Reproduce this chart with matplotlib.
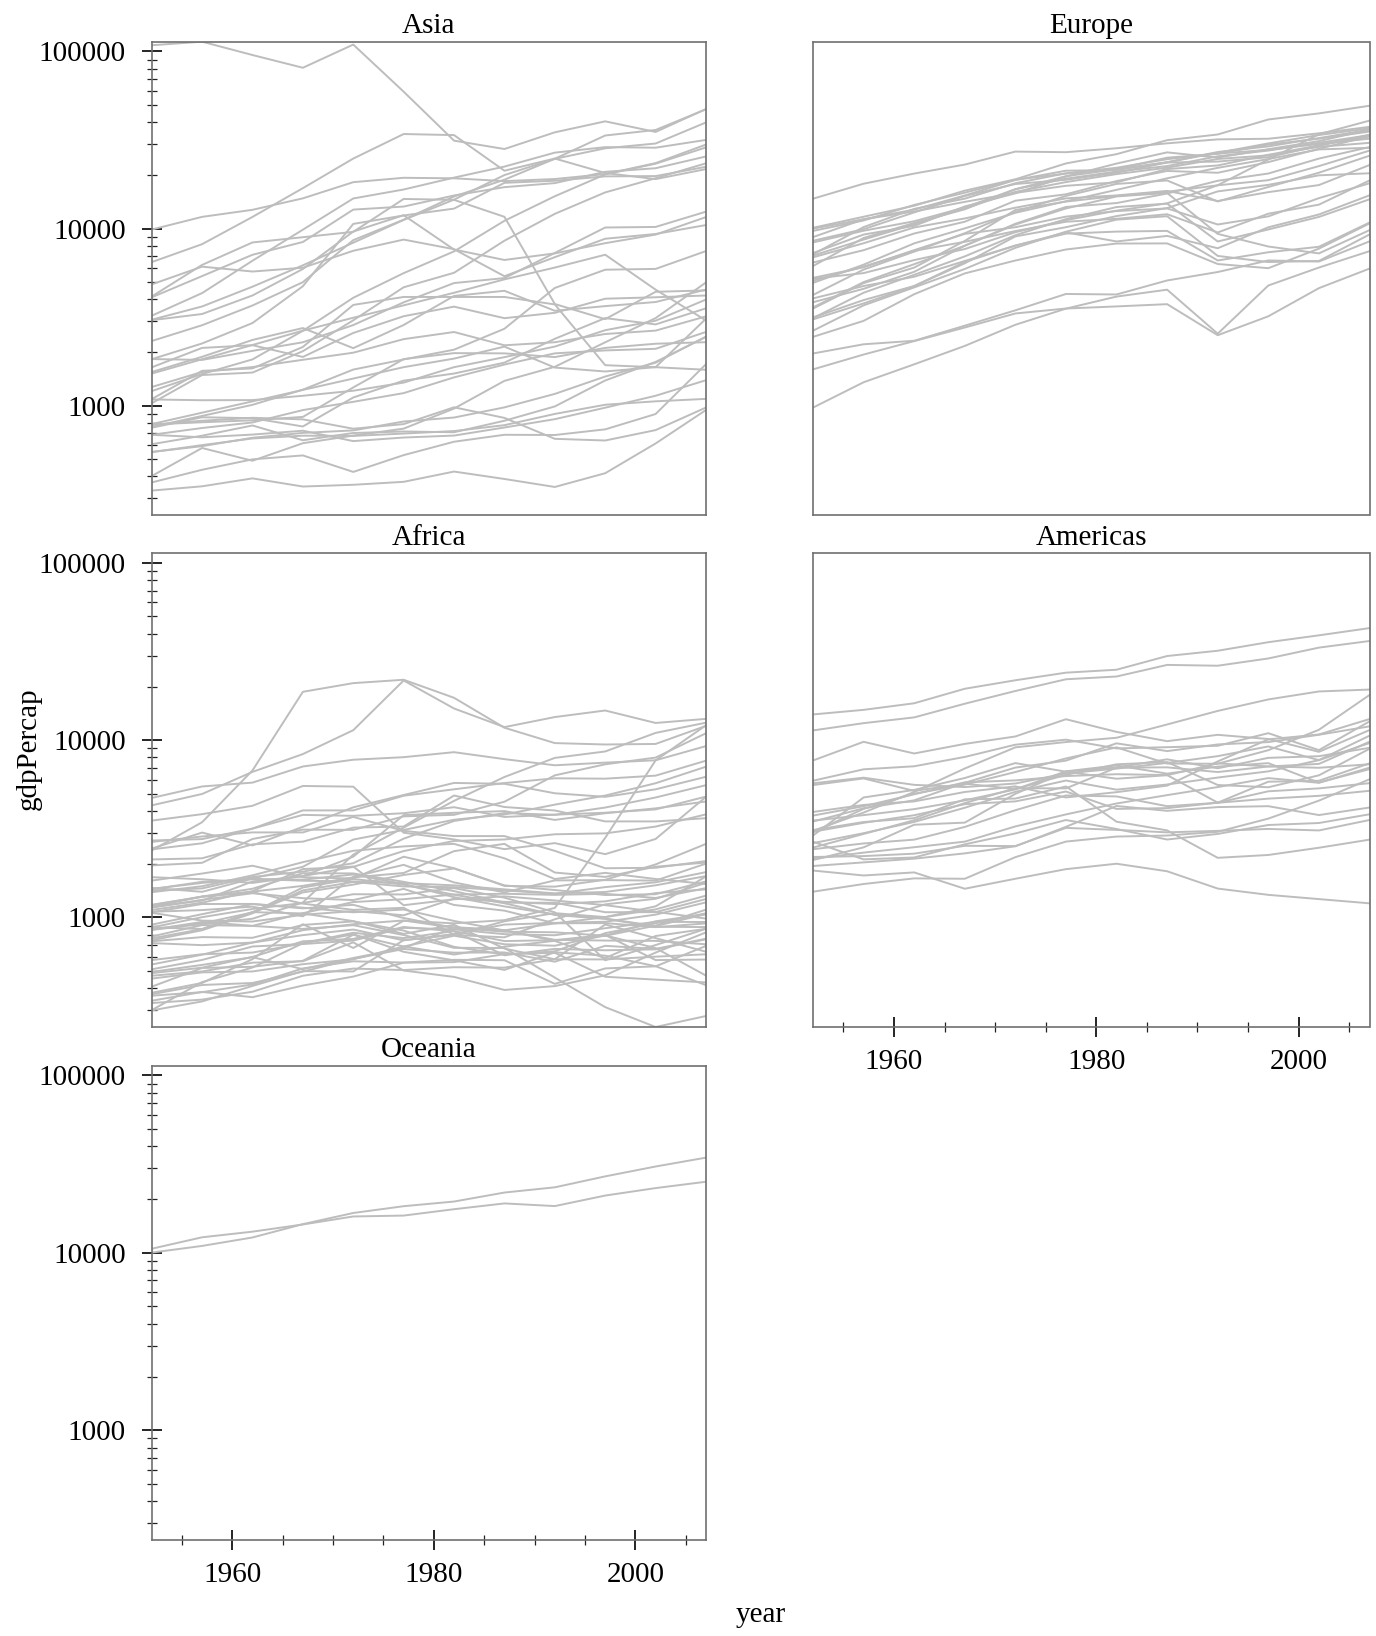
import matplotlib
matplotlib.use("Agg")
import matplotlib.pyplot as plt
import matplotlib.ticker as mticker
import numpy as np

years = [1952, 1957, 1962, 1967, 1972, 1977, 1982, 1987, 1992, 1997, 2002, 2007]

asia_countries = ["Afghanistan", "Bahrain", "Bangladesh", "Cambodia", "China", "Hong Kong", "India",
                  "Indonesia", "Iran", "Iraq", "Israel", "Japan", "Jordan", "Korea Dem Rep", "Korea Rep",
                  "Kuwait", "Lebanon", "Malaysia", "Mongolia", "Myanmar", "Nepal", "Oman", "Pakistan",
                  "Philippines", "Saudi Arabia", "Singapore", "Sri Lanka", "Syria", "Taiwan", "Thailand",
                  "Vietnam", "West Bank and Gaza", "Yemen"]
asia_gdp = [
    [779, 821, 853, 836, 740, 786, 978, 852, 649, 635, 727, 975],
    [9867, 11636, 12753, 14805, 18269, 19340, 19211, 18524, 19036, 20292, 23404, 29796],
    [684, 662, 686, 721, 630, 660, 677, 752, 838, 973, 1136, 1391],
    [368, 434, 497, 523, 422, 525, 625, 684, 682, 734, 896, 1713],
    [400, 576, 488, 613, 677, 741, 962, 1379, 1656, 2277, 3119, 4959],
    [3054, 3629, 4693, 6198, 8316, 11186, 14561, 20038, 24757, 28378, 30209, 39725],
    [547, 590, 658, 701, 724, 813, 856, 977, 1164, 1459, 1747, 2452],
    [750, 859, 849, 762, 1111, 1383, 1517, 1748, 2383, 3119, 2874, 3541],
    [3035, 3290, 4187, 5907, 9613, 11889, 7608, 6643, 7235, 8264, 9241, 11606],
    [4130, 6229, 8342, 8931, 9576, 14688, 14517, 11644, 3746, 3076, 4391, 4471],
    [4087, 5386, 7106, 8393, 12787, 13306, 15367, 17122, 18051, 20897, 21906, 25523],
    [3217, 4318, 6577, 9848, 14779, 16610, 19384, 22376, 26825, 28817, 28605, 31656],
    [1547, 1886, 2348, 2741, 2110, 2852, 4162, 4449, 3431, 3645, 3845, 4519],
    [1088, 1571, 1622, 2144, 3702, 4106, 4106, 4106, 3726, 1691, 1647, 1593],
    [1031, 1488, 1536, 2029, 3031, 4657, 5623, 8533, 12104, 15994, 19234, 23348],
    [108382, 113523, 95458, 80895, 109348, 59265, 31354, 28118, 34933, 40301, 35110, 47307],
    [4835, 6090, 5716, 6006, 7486, 8659, 7641, 5377, 6890, 8755, 9314, 10461],
    [1831, 1811, 2037, 2278, 2849, 3828, 4920, 5249, 7278, 10133, 10207, 12452],
    [786, 912, 1056, 1226, 1421, 1648, 1842, 2153, 1639, 1558, 1648, 3096],
    [331, 350, 388, 349, 357, 371, 424, 385, 347, 415, 611, 944],
    [546, 598, 652, 676, 674, 695, 718, 775, 897, 1011, 1057, 1091],
    [1828, 2243, 2925, 4721, 10618, 11848, 12955, 18115, 18617, 19702, 19775, 22316],
    [684, 747, 803, 943, 1050, 1176, 1443, 1705, 1972, 2049, 2092, 2606],
    [1273, 1548, 1650, 1814, 1989, 2373, 2603, 2190, 2279, 2537, 2651, 3190],
    [6460, 8157, 11627, 16903, 24837, 34168, 33693, 21199, 24841, 20586, 19014, 21655],
    [2315, 2843, 3675, 4977, 8597, 11210, 15169, 18862, 24769, 33519, 36023, 47143],
    [1083, 1072, 1074, 1136, 1213, 1348, 1648, 1877, 2154, 2665, 3015, 3970],
    [1644, 2117, 2193, 1882, 2571, 3196, 3621, 3116, 3341, 4014, 4090, 4185],
    [1207, 1508, 1823, 2644, 4063, 5597, 7427, 11055, 15216, 20207, 23235, 28718],
    [758, 874, 1010, 1230, 1597, 1822, 2069, 2716, 4616, 5853, 5914, 7458],
    [605, 676, 772, 637, 700, 714, 707, 821, 989, 1386, 1764, 2442],
    [1516, 1827, 2199, 2650, 3134, 3682, 4337, 5162, 6018, 7111, 4516, 3026],
    [782, 805, 826, 863, 1266, 1830, 1978, 1972, 1879, 2117, 2235, 2281],
]

europe_countries = ["Albania", "Austria", "Belgium", "Bosnia", "Bulgaria", "Croatia", "Czech Rep",
                    "Denmark", "Finland", "France", "Germany", "Greece", "Hungary", "Iceland", "Ireland",
                    "Italy", "Montenegro", "Netherlands", "Norway", "Poland", "Portugal", "Romania",
                    "Serbia", "Slovak Rep", "Slovenia", "Spain", "Sweden", "Switzerland", "Turkey", "UK"]
europe_gdp = [
    [1601, 1942, 2313, 2760, 3313, 3533, 3631, 3739, 2497, 3193, 4604, 5937],
    [6137, 8843, 10751, 12835, 16662, 19749, 21598, 23688, 27042, 29096, 32418, 36126],
    [8343, 9715, 10991, 13149, 16672, 19118, 20979, 22526, 25576, 27561, 30486, 33693],
    [974, 1354, 1710, 2172, 2860, 3528, 4127, 4514, 2547, 4766, 6019, 7446],
    [2444, 3009, 4255, 5578, 6597, 7612, 8225, 8240, 6303, 5970, 7697, 10681],
    [3119, 4338, 5478, 6960, 9164, 11306, 13222, 13823, 8448, 9876, 11628, 14619],
    [6876, 8256, 10137, 11399, 13108, 14800, 15377, 16310, 14297, 16049, 17596, 22833],
    [9692, 11100, 13583, 15937, 18866, 20423, 21688, 25116, 26407, 29804, 32166, 35278],
    [6425, 7545, 9372, 10922, 14359, 15605, 18533, 21141, 20647, 23724, 28205, 33207],
    [7030, 8663, 10560, 12999, 16107, 18293, 20294, 22066, 24704, 25890, 28926, 30470],
    [7144, 10188, 12902, 14746, 18016, 20513, 22032, 24639, 26505, 27789, 30036, 32170],
    [3531, 4916, 6017, 8513, 12725, 14196, 15268, 16121, 17541, 18748, 22514, 27538],
    [5264, 6040, 7550, 9326, 10168, 11674, 12546, 12986, 10536, 11712, 14843, 18009],
    [7268, 9244, 10350, 13320, 15798, 19655, 23270, 26923, 25144, 28061, 31163, 36181],
    [5211, 5599, 6632, 7656, 9531, 11151, 12618, 13873, 17559, 24522, 34077, 40676],
    [4931, 6249, 8244, 10022, 12269, 14256, 16537, 19208, 22014, 24675, 27968, 28570],
    [2648, 3682, 4649, 5908, 7779, 9596, 11223, 11733, 7003, 6466, 6557, 9254],
    [8942, 11277, 12791, 15363, 18795, 21210, 21400, 23651, 26791, 30246, 33725, 36798],
    [10095, 11654, 13450, 16362, 18965, 23311, 26298, 31541, 33966, 41283, 44684, 49357],
    [4029, 4734, 5339, 6557, 8006, 9508, 8452, 9082, 7739, 10160, 12002, 15390],
    [3068, 3775, 4728, 6362, 9022, 10172, 11754, 13039, 16207, 17641, 19971, 20510],
    [3145, 3943, 4735, 6471, 8011, 9356, 9606, 9696, 6598, 7346, 7885, 10808],
    [3581, 4981, 6289, 7992, 10523, 12980, 15181, 15871, 9325, 7914, 7236, 9787],
    [5074, 6093, 7481, 8412, 9674, 10922, 11348, 12037, 9498, 12126, 13638, 18678],
    [4215, 5862, 7403, 9405, 12384, 15277, 17867, 18678, 14214, 17161, 20660, 25768],
    [3834, 4565, 5694, 7994, 10639, 13236, 13926, 15765, 18603, 20445, 24835, 28821],
    [8528, 9912, 12329, 15258, 17832, 18856, 20667, 23587, 23880, 25267, 29342, 33860],
    [14734, 17909, 20431, 22966, 27195, 26982, 28398, 30282, 31872, 32136, 34481, 37506],
    [1969, 2219, 2323, 2826, 3451, 4269, 4241, 5089, 5679, 6601, 6508, 8458],
    [9980, 11283, 12477, 14143, 15895, 17429, 18232, 21665, 22705, 26075, 29479, 33203],
]

africa_countries = ["Algeria", "Angola", "Benin", "Botswana", "Burkina Faso", "Burundi", "Cameroon",
                    "Central African Rep", "Chad", "Comoros", "Congo Dem Rep", "Congo Rep", "Cote d'Ivoire",
                    "Djibouti", "Egypt", "Equatorial Guinea", "Eritrea", "Ethiopia", "Gabon", "Gambia",
                    "Ghana", "Guinea", "Guinea-Bissau", "Kenya", "Lesotho", "Liberia", "Libya",
                    "Madagascar", "Malawi", "Mali", "Mauritania", "Mauritius", "Morocco", "Mozambique",
                    "Namibia", "Niger", "Nigeria", "Reunion", "Rwanda", "Sao Tome", "Senegal",
                    "Sierra Leone", "Somalia", "South Africa", "Sudan", "Swaziland", "Tanzania", "Togo",
                    "Tunisia", "Uganda", "Zambia", "Zimbabwe"]
africa_gdp = [
    [2449, 3014, 2551, 3247, 4183, 4910, 5745, 5681, 5023, 4797, 5288, 6223],
    [3521, 3828, 4269, 5523, 5473, 3009, 2757, 2430, 2628, 2277, 2773, 4797],
    [1063, 960, 949, 1036, 1086, 1029, 1278, 1226, 1191, 1233, 1373, 1441],
    [851, 918, 984, 1215, 2264, 3215, 4551, 6206, 7954, 8647, 11004, 12570],
    [543, 617, 722, 795, 855, 743, 807, 912, 932, 946, 1038, 1217],
    [339, 380, 355, 413, 464, 556, 560, 621, 632, 463, 446, 430],
    [1173, 1313, 1400, 1508, 1684, 1783, 2368, 2603, 1793, 1694, 1934, 2042],
    [1071, 1191, 1193, 1136, 1070, 1109, 956, 844, 748, 741, 738, 706],
    [1179, 1308, 1390, 1197, 1104, 1134, 798, 952, 1058, 1005, 1156, 1704],
    [1103, 1211, 1407, 1876, 1938, 1173, 1267, 1316, 1247, 1174, 1076, 986],
    [781, 906, 896, 862, 905, 796, 674, 673, 458, 312, 241, 278],
    [2126, 2158, 2586, 2679, 3214, 3260, 4879, 4201, 4016, 3485, 3484, 3633],
    [1389, 1501, 1729, 2052, 2379, 2518, 2603, 2157, 1648, 1786, 1649, 1545],
    [2670, 2865, 3021, 3020, 3694, 3082, 2880, 2880, 2377, 1896, 1908, 2082],
    [1419, 1459, 1693, 1815, 2024, 2785, 3504, 3885, 3795, 4173, 4755, 5581],
    [376, 427, 582, 916, 673, 958, 927, 966, 1132, 2815, 7703, 12154],
    [329, 344, 381, 469, 515, 505, 524, 521, 582, 913, 765, 641],
    [362, 379, 419, 516, 566, 557, 577, 574, 422, 516, 530, 691],
    [4293, 4976, 6631, 8358, 11401, 21746, 15113, 11864, 13522, 14723, 12522, 13206],
    [485, 521, 599, 734, 757, 884, 836, 612, 665, 653, 661, 753],
    [911, 1044, 1190, 1126, 1179, 993, 876, 847, 925, 1005, 1111, 1328],
    [510, 576, 686, 708, 741, 874, 857, 805, 794, 870, 945, 943],
    [300, 432, 522, 716, 820, 765, 838, 736, 745, 797, 575, 579],
    [853, 944, 897, 1057, 1222, 1268, 1348, 1361, 1342, 1360, 1288, 1463],
    [299, 336, 411, 498, 496, 745, 797, 773, 977, 1186, 1275, 1569],
    [575, 620, 634, 714, 803, 640, 573, 506, 636, 609, 531, 415],
    [2388, 3448, 6757, 18773, 21011, 21951, 17364, 11770, 9640, 9467, 9534, 12057],
    [1443, 1589, 1643, 1634, 1749, 1544, 1302, 1155, 1040, 987, 895, 1045],
    [369, 416, 427, 495, 584, 664, 633, 635, 563, 692, 665, 759],
    [452, 490, 496, 545, 581, 686, 618, 684, 739, 790, 952, 1042],
    [744, 847, 1056, 1422, 1586, 1497, 1482, 1421, 1361, 1484, 1579, 1803],
    [1968, 2035, 2773, 3132, 3121, 3721, 3795, 4500, 6340, 7319, 7986, 10957],
    [1688, 1643, 1567, 1712, 1930, 2371, 2703, 2756, 2948, 2983, 3258, 3820],
    [469, 496, 556, 566, 724, 502, 462, 390, 410, 472, 634, 824],
    [2424, 2622, 3173, 3793, 3746, 3876, 4191, 3693, 3804, 3900, 4072, 4811],
    [762, 860, 1072, 1054, 954, 808, 909, 668, 581, 580, 601, 620],
    [1077, 1101, 1151, 1015, 1698, 1982, 1577, 1385, 1619, 1625, 1615, 2014],
    [2719, 2769, 3174, 4021, 4021, 4864, 5289, 5735, 6102, 6072, 6316, 7670],
    [493, 540, 597, 511, 591, 670, 882, 848, 737, 590, 786, 863],
    [880, 861, 1072, 1385, 1533, 1738, 1890, 1517, 1429, 1339, 1353, 1598],
    [1450, 1567, 1654, 1612, 1597, 1562, 1518, 1441, 1367, 1393, 1519, 1712],
    [879, 1004, 1117, 1207, 1353, 1349, 1465, 1294, 1069, 574, 699, 863],
    [1136, 1258, 1370, 1285, 1254, 1450, 1177, 1093, 927, 930, 882, 926],
    [4725, 5487, 5769, 7114, 7765, 8028, 8568, 7826, 7225, 7479, 7711, 9270],
    [1615, 1770, 1959, 1687, 1659, 2202, 1896, 1508, 1493, 1632, 1993, 2602],
    [1148, 1244, 1597, 1712, 2203, 3781, 3896, 3985, 3553, 3876, 4128, 4513],
    [717, 698, 722, 848, 916, 962, 875, 831, 825, 789, 899, 1107],
    [859, 926, 1068, 1477, 1650, 1533, 1344, 1203, 1034, 982, 886, 883],
    [1468, 1396, 1660, 1932, 2753, 3120, 3561, 3811, 4333, 4876, 5723, 7093],
    [734, 775, 768, 908, 950, 844, 683, 618, 644, 816, 928, 1056],
    [1147, 1312, 1453, 1778, 1773, 1589, 1409, 1213, 1211, 1071, 1072, 1271],
    [407, 519, 527, 570, 799, 686, 789, 706, 693, 792, 672, 470],
]

americas_countries = ["Argentina", "Bolivia", "Brazil", "Canada", "Chile", "Colombia", "Costa Rica",
                      "Cuba", "Dominican Rep", "Ecuador", "El Salvador", "Guatemala", "Haiti", "Honduras",
                      "Jamaica", "Mexico", "Nicaragua", "Panama", "Paraguay", "Peru", "Puerto Rico",
                      "Trinidad and Tobago", "United States", "Uruguay", "Venezuela"]
americas_gdp = [
    [5911, 6857, 7133, 8053, 9443, 10079, 8998, 9140, 9308, 10967, 8798, 12779],
    [2677, 2128, 2181, 2587, 2980, 3548, 3157, 2754, 2962, 3326, 3413, 3822],
    [2109, 2487, 3337, 3430, 4986, 6660, 7031, 7807, 6950, 7958, 8131, 9066],
    [11367, 12490, 13462, 16077, 18971, 22091, 22899, 26627, 26343, 28955, 33329, 36319],
    [3940, 4316, 4519, 5107, 5494, 4757, 5096, 5547, 7596, 10118, 10779, 13172],
    [2144, 2323, 2492, 2679, 3265, 3816, 4398, 4903, 5445, 6117, 5755, 7007],
    [2627, 2990, 3461, 4161, 5118, 5927, 5263, 5629, 6160, 6677, 7723, 9645],
    [5587, 6092, 5181, 5690, 5305, 6381, 7317, 7533, 5593, 5432, 6341, 8948],
    [1398, 1545, 1662, 1654, 2190, 2681, 2862, 2900, 3045, 3614, 4564, 6025],
    [3522, 3781, 4086, 4580, 5281, 6680, 7213, 6481, 7103, 7429, 5773, 6873],
    [3048, 3421, 3776, 4359, 4520, 5138, 4099, 4141, 4444, 5154, 5352, 5728],
    [2428, 2617, 2750, 3243, 4031, 4880, 4821, 4246, 4440, 4684, 4858, 5186],
    [1840, 1726, 1796, 1453, 1654, 1874, 2011, 1823, 1456, 1342, 1270, 1202],
    [2195, 2220, 2292, 2538, 2529, 3203, 3121, 3023, 3082, 3160, 3099, 3548],
    [2899, 4757, 5246, 6125, 7434, 6650, 6068, 6351, 7405, 7122, 6995, 7321],
    [3478, 4132, 4582, 5755, 7011, 7675, 9611, 8688, 9472, 9767, 10742, 11978],
    [3112, 3457, 3635, 4644, 4689, 5487, 3471, 3101, 2171, 2253, 2475, 2749],
    [2480, 2961, 3537, 4421, 5365, 5352, 7009, 7034, 6618, 7113, 7357, 9809],
    [1952, 2046, 2148, 2300, 2523, 3248, 4258, 3998, 4197, 4247, 3784, 4173],
    [3759, 4245, 4957, 5788, 5938, 6281, 6435, 6361, 4446, 5838, 5909, 7409],
    [3082, 3908, 5108, 6930, 9123, 9770, 10331, 12281, 14642, 16999, 18855, 19329],
    [3023, 4101, 4997, 5621, 6619, 7899, 9119, 7388, 7371, 8792, 11461, 18009],
    [13990, 14847, 16173, 19530, 21806, 24072, 25010, 29884, 32004, 35767, 39097, 42952],
    [5717, 6150, 5603, 5444, 5703, 6504, 6920, 7452, 8137, 9231, 7727, 10611],
    [7690, 9803, 8423, 9541, 10506, 13144, 11152, 9884, 10734, 10165, 8605, 11416],
]

oceania_countries = ["Australia", "New Zealand"]
oceania_gdp = [
    [10040, 10950, 12217, 14526, 16789, 18334, 19477, 21889, 23425, 26998, 30688, 34435],
    [10557, 12247, 13176, 14464, 16046, 16234, 17632, 19007, 18363, 21050, 23190, 25185],
]

continents = ["Asia", "Europe", "Africa", "Americas", "Oceania"]
continent_data = [asia_gdp, europe_gdp, africa_gdp, americas_gdp, oceania_gdp]

plt.rcParams["font.family"] = ["Liberation Serif", "DejaVu Serif"]
FS = 21
W, H = 1376, 1636
fig = plt.figure(figsize=(W / 100, H / 100), dpi=100)

# axes rectangles in pixel coords (left, top, right, bottom)
rects = {
    "Asia": (151.7, 41.7, 706, 515),
    "Europe": (813, 41.7, 1369.5, 515),
    "Africa": (151.7, 553.3, 706, 1027),
    "Americas": (813, 553.3, 1369.5, 1027),
    "Oceania": (151.7, 1065.7, 706, 1540),
}

all_vals = [v for d in continent_data for row in d for v in row]
ymin, ymax = min(all_vals), max(all_vals)

spine_color = "#707070"
line_color = "#bdbdbd"

for name, data in zip(continents, continent_data):
    l, t, r, b = rects[name]
    ax = fig.add_axes([l / W, 1 - b / H, (r - l) / W, (b - t) / H])
    for row in data:
        ax.plot(years, row, color=line_color, lw=1.4)
    ax.set_yscale("log")
    ax.set_xlim(1952, 2007)
    ax.set_ylim(ymin, ymax)
    for s in ax.spines.values():
        s.set_color(spine_color)
        s.set_linewidth(1.2)
    ax.set_title(name, fontsize=FS, pad=6)
    left_col = name in ("Asia", "Africa", "Oceania")
    bottom = name in ("Americas", "Oceania")

    ax.xaxis.set_major_locator(mticker.MultipleLocator(20))
    ax.xaxis.set_minor_locator(mticker.MultipleLocator(5))
    ax.yaxis.set_major_locator(mticker.LogLocator(base=10, numticks=10))
    ax.yaxis.set_minor_locator(mticker.LogLocator(base=10, subs=np.arange(2, 10), numticks=20))
    ax.yaxis.set_major_formatter(mticker.FuncFormatter(lambda v, p: f"{int(round(v))}"))
    ax.yaxis.set_minor_formatter(mticker.NullFormatter())

    ax.tick_params(which="major", direction="inout", length=15, width=1.2, color="black",
                   labelsize=FS)
    ax.tick_params(which="minor", direction="inout", length=7.3, width=0.9, color="#222222")
    ax.tick_params(axis="x", which="major", pad=8)
    ax.tick_params(axis="y", which="major", pad=11)
    ax.tick_params(axis="x", which="both", top=False, bottom=bottom, labelbottom=bottom)
    ax.tick_params(axis="y", which="both", right=False, left=left_col, labelleft=left_col)

fig.text(29 / W, 1 - 749 / H, "gdpPercap", rotation=90, ha="center", va="center", fontsize=FS)
fig.text(761 / W, 1 - 1621.7 / H, "year", ha="center", va="baseline", fontsize=FS)

fig.savefig("out.png", dpi=100)
